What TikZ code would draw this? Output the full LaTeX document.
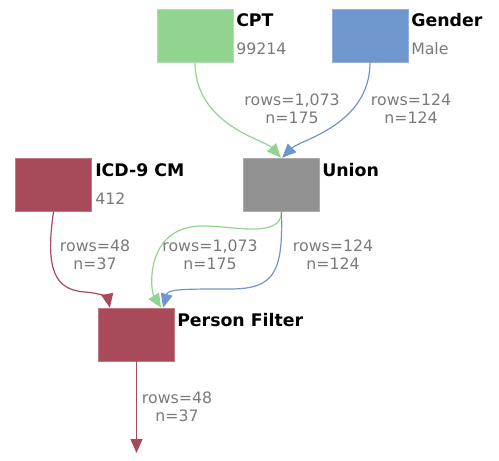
\documentclass[tikz,border=0pt]{standalone}
\usepackage{fontspec}
\setmainfont{DejaVu Sans}
\usetikzlibrary{arrows.meta}
\definecolor{cgreen}{HTML}{90D490}
\definecolor{cblue}{HTML}{7096CE}
\definecolor{cred}{HTML}{A84A5A}
\definecolor{cgray}{HTML}{919191}
\definecolor{ctext}{HTML}{7A7A7A}
\tikzset{
  box/.style={rectangle, fill=#1, draw=#1!75!white, line width=0.4pt, minimum width=57pt, minimum height=39.75pt, inner sep=0pt},
  title/.style={anchor=base west, inner sep=0pt, font=\fontsize{13}{15}\selectfont\bfseries, text=black},
  sub/.style={anchor=base west, inner sep=0pt, font=\fontsize{11.8}{14}\selectfont, text=ctext},
  elabel/.style={align=center, inner sep=0pt, font=\fontsize{11.8}{13.5}\selectfont, text=ctext},
  edge/.style={draw=#1, line width=0.9pt, -{Triangle[width=9pt,length=10.5pt,fill=#1]}},
}
\begin{document}
\begin{tikzpicture}[x=0.75pt,y=-0.75pt]
\useasboundingbox (0,0) rectangle (499,460);
% boxes
\node[box=cgreen] (cpt) at (195,35.5) {};
\node[box=cblue] (gender) at (370,35.5) {};
\node[box=cgray] (union) at (281.5,184.5) {};
\node[box=cred] (icd) at (53.5,185) {};
\node[box=cred] (pf) at (136.5,334.5) {};
% titles
\node[title] (cptt) at (236,27) {CPT};
\node[sub] (cpts) at (236,55) {99214};
\node[title] (gent) at (411,27) {Gender};
\node[sub] (gens) at (411,55) {Male};
\node[title] (unt) at (322,176) {Union};
\node[title] (icdt) at (95,176) {ICD-9 CM};
\node[sub] (icds) at (95,204) {412};
\node[title] (pft) at (177,326) {Person Filter};
% end coordinate
\coordinate (out) at (136.5,453);
% edges
\draw[edge=cgreen] (cpt.south) .. controls (195,125) and (265,140) .. ([xshift=-0.5pt]union.north);
\draw[edge=cblue] (gender.south) .. controls (370,125) and (300,140) .. ([xshift=0.5pt]union.north);
\draw[edge=cgreen] (union.south) .. controls (282,240) and (230,225) .. (200,226) .. controls (145,228) and (150,290) .. ([xshift=18.5pt]pf.north);
\draw[edge=cblue] (union.south) .. controls (283,272) and (275,289) .. (230,289) .. controls (185,289) and (168,289) .. ([xshift=20pt]pf.north);
\draw[edge=cred] (icd.south) .. controls (45,270) and (55,290) .. (85,292) .. controls (100,293) and (108,298) .. ([xshift=-20pt]pf.north);
\draw[edge=cred] (pf.south) -- (out);
% edge labels
\node[elabel] (l1) at (292,109) {rows=1,073\\n=175};
\node[elabel] (l2) at (411,109) {rows=124\\n=124};
\node[elabel] (l3) at (210,255) {rows=1,073\\n=175};
\node[elabel] (l4) at (333,255) {rows=124\\n=124};
\node[elabel] (l5) at (95,255) {rows=48\\n=37};
\node[elabel] (l6) at (177,407) {rows=48\\n=37};
\end{tikzpicture}
\end{document}
